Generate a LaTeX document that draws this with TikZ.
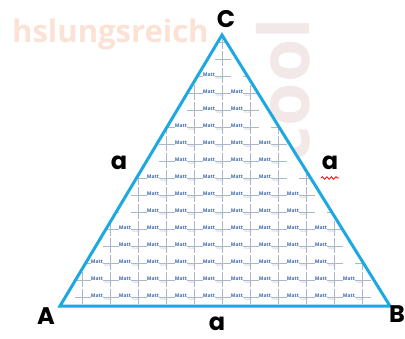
\documentclass[tikz,border=0pt]{standalone}
\usepackage{fontspec}
\newfontfamily\lab{Poppins}
\newfontfamily\wm{Open Sans}
\usetikzlibrary{decorations.pathmorphing}
\definecolor{tri}{RGB}{30,168,226}
\definecolor{peach}{RGB}{252,226,212}
\definecolor{pinkgrey}{RGB}{243,232,232}
\definecolor{tileblue}{RGB}{60,105,170}
\definecolor{tilegrey}{RGB}{170,183,200}
\tikzset{
  lbl/.style={font=\lab\bfseries\fontsize{24}{24}\selectfont, text=black, inner sep=0pt},
  wmtext/.style={font=\wm\bfseries\fontsize{31}{31}\selectfont, text=peach, inner sep=0pt},
  wmcool/.style={font=\wm\bfseries\fontsize{70}{70}\selectfont, text=pinkgrey, inner sep=0pt, rotate=90},
  tiletext/.style={font=\wm\bfseries\fontsize{5}{5}\selectfont, text=tileblue, inner sep=0pt},
  tilesub/.style={font=\wm\fontsize{3}{3}\selectfont, text=tilegrey, inner sep=0pt},
  tileline/.style={draw=tilegrey, line width=0.35pt},
  side/.style={draw=tri, line width=3pt, line join=miter},
  wavy/.style={draw=red, line width=0.8pt, decorate, decoration={snake, amplitude=1.3pt, segment length=4.5pt}}
}
\begin{document}
\begin{tikzpicture}[x=1pt,y=-1pt]
\useasboundingbox[fill=white] (0,0) rectangle (405,338);
% watermark
\node[wmtext, anchor=west] (wm1) at (12,34) {hslungsreich};
\node[wmcool] (wm2) at (283,90) {cool};
% triangle corners
\coordinate (A) at (60,306);
\coordinate (B) at (390,306);
\coordinate (C) at (222,35);
% pattern fill
\begin{scope}
\clip (A) -- (B) -- (C) -- cycle;
\fill[white] (A) -- (B) -- (C) -- cycle;
\foreach \r in {0,...,15} {
  \foreach \c in {-2,...,11} {
    \pgfmathsetmacro\tx{97+28*\c}
    \pgfmathsetmacro\ty{296-17*\r}
    \draw[tileline] (\tx+13,\ty-7) -- (\tx+13,\ty+8);
    \draw[tileline] (\tx+6,\ty+1.5) -- (\tx+22,\ty+1.5);
    \pgfmathsetmacro\xl{60+(309-\ty)*0.5978}
    \pgfmathsetmacro\xr{390-(309-\ty)*0.6199}
    \pgfmathparse{and(\tx-6>\xl+1,\tx+15<\xr-1)?1:0}
    \ifnum\pgfmathresult=1
      \node[tiletext] (m\r-\c) at (\tx,\ty) {Matt};
      \node[tilesub] (s\r-\c) at (\tx+11,\ty+4) {mate};
    \fi
  }
}
\end{scope}
\draw[side] (A) -- (B) -- (C) -- cycle;
% labels
\node[lbl] (lA) at (46,316) {A};
\node[lbl] (lB) at (397,314) {B};
\node[lbl] (lC) at (226,19) {C};
\node[lbl] (la1) at (119,163) {a};
\node[lbl] (la2) at (330,163) {a};
\node[lbl] (la3) at (217,324) {a};
\coordinate (w1) at (321,178);
\coordinate (w2) at (339,178);
\draw[wavy] (w1) -- (w2);
\end{tikzpicture}
\end{document}
